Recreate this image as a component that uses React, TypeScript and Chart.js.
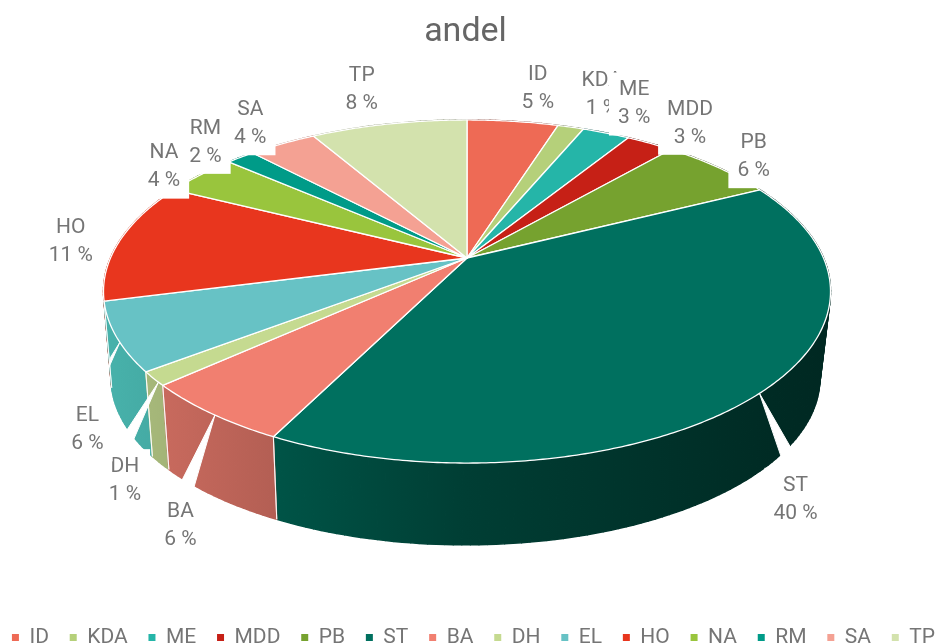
import React, { useEffect, useRef } from "react";
import { Chart, registerables } from "chart.js";

Chart.register(...registerables);

const categories = ["ID", "KDA", "ME", "MDD", "PB", "ST", "BA", "DH", "EL", "HO", "NA", "RM", "SA", "TP"];
const shares = [4.9, 1.4, 2.55, 2.55, 6.2, 39.8, 5.9, 1.3, 6.4, 11.4, 4.0, 1.55, 3.65, 8.4];
const sliceColors = [
  "#ee6a55", "#b5d07a", "#25b5a8", "#c62016", "#76a22f", "#00705f", "#f17f70",
  "#c5da90", "#67c2c5", "#e8361e", "#99c53d", "#009b88", "#f4a193", "#d3e2ad",
];
const wallColors = [
  "#ee6a55", "#b5d07a", "#25b5a8", "#c62016", "#76a22f", "#00705f", "#f17f70",
  "#c5da90", "#52cbc4", "#e8361e", "#99c53d", "#009b88", "#f4a193", "#d3e2ad",
];
// label block offset from the slice's rim midpoint (px)
const labelOffsets = [
  [25, -33], [31, -32], [28, -29], [40, -20], [35, -11], [36, 106], [-31, 112],
  [-29, 102], [-29, 93], [-49, 1], [-36, -8], [-35, -15], [-32, -20], [-27, -34],
];
// white cracks in the side wall: [angle on top rim, two angles on lower rim] in degrees clockwise from 12 o'clock
const wallGaps = [
  [135, 127.6, 124.4],
  [216.6, 224, 221.3],
  [229, 241.2, 238.1],
  [242.3, 266, 262],
];

// the canvas is a little wider than the window so the one-row legend does not wrap
const BLEED = 27;
const K = 0.1953;
const TOP = { cx: 467, y0: 258, a: 165, b: 356.5 };
const BOTTOM = { cx: 465.5, y0: 346, a: 160, b: 347.5 };

type Disk = { cx: number; y0: number; a: number; b: number };
// perspective projection of a tilted disk; t is the canvas angle (0 = 3 o'clock, clockwise)
const project = (d: Disk, t: number, r = 1) => {
  const x = Math.cos(t) * r;
  const y = Math.sin(t) * r;
  const s = 1 / (1 - K * y);
  return [d.cx + d.b * x * s, d.y0 + d.a * y * s];
};
const fromClock = (deg: number) => (deg * Math.PI) / 180 - Math.PI / 2;

const hexToRgb = (h: string) => [1, 3, 5].map((i) => parseInt(h.slice(i, i + 2), 16));

const shadeStops: [number, number][] = [
  [0, 0.88],
  [0.25, 0.74],
  [0.5, 0.55],
  [0.92, 0.38],
  [1, 0.36],
];

const pie3d = {
  id: "pie3d",
  afterLayout(chart: any) {
    if (chart.titleBlock) {
      chart.titleBlock.left -= 8;
      chart.titleBlock.right -= 8;
    }
  },
  beforeDatasetDraw() {
    return false;
  },
  afterDatasetsDraw(chart: any) {
    const ctx: CanvasRenderingContext2D = chart.ctx;
    const meta = chart.getDatasetMeta(0);
    const arcs = meta.data as any[];
    const STEP = 0.01;
    const trace = (d: Disk, a: number, b: number, first: boolean) => {
      const n = Math.max(2, Math.ceil(Math.abs(b - a) / STEP));
      for (let i = 0; i <= n; i++) {
        const [x, y] = project(d, a + ((b - a) * i) / n);
        if (i === 0 && first) ctx.moveTo(x, y);
        else ctx.lineTo(x, y);
      }
    };
    ctx.save();
    ctx.translate(BLEED, 0);
    ctx.lineJoin = "round";

    // side walls, far ones first, built from thin quads so the ribbon never cancels itself
    const order = arcs
      .map((_, i) => i)
      .sort((p, q) => Math.sin((arcs[p].startAngle + arcs[p].endAngle) / 2) - Math.sin((arcs[q].startAngle + arcs[q].endAngle) / 2));
    for (const i of order) {
      const { startAngle: a, endAngle: b } = arcs[i];
      const rgb = hexToRgb(wallColors[i]);
      const grad = ctx.createLinearGradient(100, 0, 830, 0);
      for (const [p, f] of shadeStops) {
        grad.addColorStop(p, `rgb(${rgb.map((c) => Math.round(c * f)).join(",")})`);
      }
      ctx.fillStyle = grad;
      ctx.strokeStyle = grad;
      ctx.lineWidth = 1.5;
      const n = Math.max(2, Math.ceil((b - a) / 0.02));
      for (let k = 0; k < n; k++) {
        const t0 = a + ((b - a) * k) / n;
        const t1 = a + ((b - a) * (k + 1)) / n;
        const p = [project(TOP, t0), project(TOP, t1), project(BOTTOM, t1), project(BOTTOM, t0)];
        ctx.beginPath();
        ctx.moveTo(p[0][0], p[0][1]);
        for (let m = 1; m < 4; m++) ctx.lineTo(p[m][0], p[m][1]);
        ctx.closePath();
        ctx.fill();
        ctx.stroke();
      }
    }
    // slice edges on the wall
    ctx.strokeStyle = "rgba(255,255,255,0.8)";
    ctx.lineWidth = 1;
    for (const arc of arcs) {
      for (const t of [arc.startAngle, arc.endAngle]) {
        if (Math.sin(t) < 0.05) continue;
        const p0 = project(TOP, t);
        const p1 = project(BOTTOM, t);
        ctx.beginPath();
        ctx.moveTo(p0[0], p0[1]);
        ctx.lineTo(p1[0], p1[1]);
        ctx.stroke();
      }
    }

    // cracks
    ctx.fillStyle = "#ffffff";
    ctx.strokeStyle = "#ffffff";
    ctx.lineWidth = 1;
    for (const [t, b1, b2] of wallGaps) {
      const p0 = project(TOP, fromClock(t));
      const p1 = project(BOTTOM, fromClock(b1), 1.01);
      const p2 = project(BOTTOM, fromClock(b2), 1.01);
      ctx.beginPath();
      ctx.moveTo(p0[0], p0[1]);
      ctx.lineTo(p1[0], p1[1]);
      ctx.lineTo(p2[0], p2[1]);
      ctx.closePath();
      ctx.fill();
      ctx.stroke();
    }

    // top faces
    arcs.forEach((arc, i) => {
      const { startAngle: a, endAngle: b } = arc;
      ctx.beginPath();
      ctx.moveTo(TOP.cx, TOP.y0);
      trace(TOP, a, b, false);
      ctx.closePath();
      ctx.fillStyle = sliceColors[i];
      ctx.fill();
      ctx.strokeStyle = "#ffffff";
      ctx.lineWidth = 1.3;
      ctx.stroke();
    });

    // data labels with white plates, drawn in slice order
    const total = shares.reduce((s, v) => s + v, 0);
    ctx.font = "400 21px Roboto";
    ctx.textAlign = "center";
    ctx.textBaseline = "middle";
    arcs.forEach((arc, i) => {
      const [rx, ry] = project(TOP, (arc.startAngle + arc.endAngle) / 2);
      const lx = rx + labelOffsets[i][0];
      const ly = ry + labelOffsets[i][1];
      const line1 = categories[i];
      const line2 = `${Math.round((shares[i] / total) * 100)} %`;
      const w = Math.max(ctx.measureText(line1).width, ctx.measureText(line2).width) + 18;
      ctx.fillStyle = "#ffffff";
      ctx.fillRect(lx - w / 2, ly - 31.5, w, 63);
      ctx.fillStyle = "#757575";
      ctx.fillText(line1, lx, ly - 14);
      ctx.fillText(line2, lx, ly + 14);
    });
    ctx.restore();
  },
};

export default function App() {
  const ref = useRef<HTMLCanvasElement>(null);
  useEffect(() => {
    const chart = new Chart(ref.current as HTMLCanvasElement, {
      type: "pie",
      data: {
        labels: categories,
        datasets: [{ data: shares, backgroundColor: sliceColors, borderWidth: 0 }],
      },
      options: {
        animation: false,
        responsive: false,
        devicePixelRatio: 1,
        plugins: {
          tooltip: { enabled: false },
          title: {
            display: true,
            text: "andel",
            color: "#666666",
            font: { family: "Roboto", size: 34, weight: "400" },
            padding: { top: 12, bottom: 10 },
          },
          legend: {
            position: "bottom",
            labels: {
              usePointStyle: true,
              pointStyle: "rect",
              boxWidth: 7,
              boxHeight: 7,
              padding: 20.8,
              color: "#757575",
              font: { family: "Roboto", size: 21 },
            },
          },
        },
      } as any,
      plugins: [pie3d as any],
    });
    return () => chart.destroy();
  }, []);
  return (
    <div style={{ position: "fixed", left: 0, top: 0, width: 947, height: 644, overflow: "hidden", background: "#fff" }}>
      <canvas
        ref={ref}
        width={947 + 2 * BLEED}
        height={658}
        style={{ display: "block", marginLeft: -BLEED, filter: "blur(0.45px)" }}
      />
    </div>
  );
}
